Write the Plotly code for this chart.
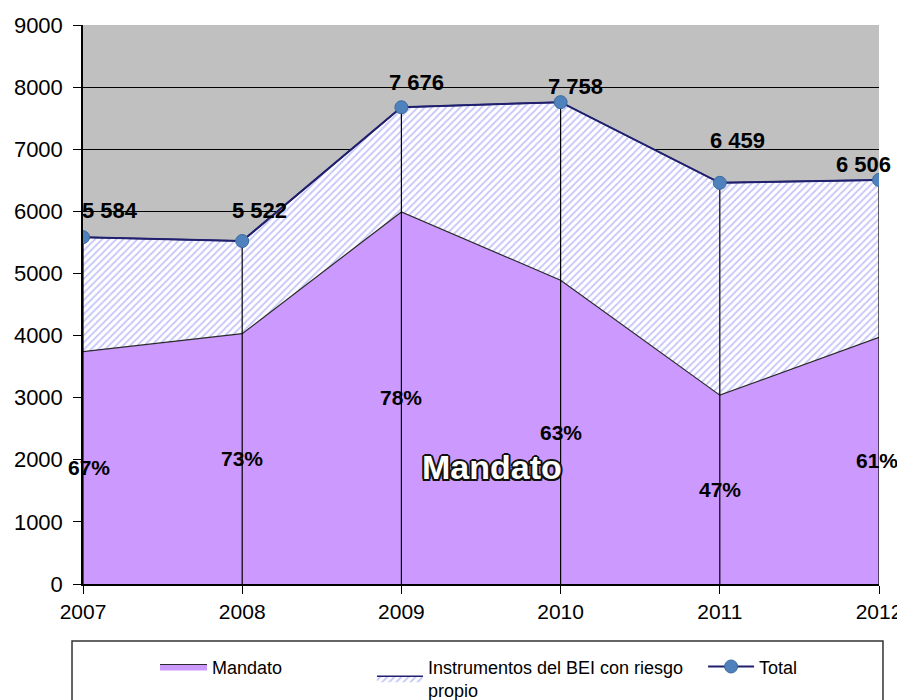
import plotly.graph_objects as go

years = [2007, 2008, 2009, 2010, 2011, 2012]
total = [5584, 5522, 7676, 7758, 6459, 6506]
mandato = [3740, 4030, 5990, 4890, 3040, 3970]
pct_labels = [67, 73, 78, 63, 47, 61]
y_ticks = [0, 1000, 2000, 3000, 4000, 5000, 6000, 7000, 8000, 9000]

# label offsets (px) for total labels, styling only
tot_dx = [27, 17, 15, 15, 18, -16]
tot_dy = [27, 31, 25, 16, 42, 15]
pct_dx = [6, 0, 0, 0, 0, -2]

FONT = "Liberation Sans, Arial, sans-serif"

fig = go.Figure()

fig.add_trace(go.Scatter(
    x=years, y=mandato, mode="lines", name="Mandato",
    fill="tozeroy", fillcolor="#CC99FF",
    line=dict(color="#2a2a2a", width=1.2),
    legend="legend",
))
fig.add_trace(go.Scatter(
    x=years, y=total, mode="lines", name="Instrumentos del BEI con riesgo<br>propio",
    fill="tonexty", fillcolor="white",
    fillpattern=dict(shape="/", fgcolor="#8C8CF5", bgcolor="white", size=5, solidity=0.35),
    line=dict(color="#20206f", width=1.5),
    legend="legend2",
))

# drop lines
dx, dy = [], []
for x, t in zip(years, total):
    dx += [x, x, None]
    dy += [0, t, None]
fig.add_trace(go.Scatter(x=dx, y=dy, mode="lines", line=dict(color="black", width=1.2),
                         showlegend=False, hoverinfo="skip"))

fig.add_trace(go.Scatter(
    x=years, y=total, mode="lines+markers", name="Total",
    line=dict(color="#20206f", width=2),
    marker=dict(color="#4F81BD", size=13, line=dict(color="#3b6a9e", width=1)),
    legend="legend3",
))

annotations = []
for x, t, ddx, ddy in zip(years, total, tot_dx, tot_dy):
    annotations.append(dict(x=x, y=t, xref="x", yref="y", text=f"{t:,}".replace(",", " "),
                            showarrow=False, xshift=ddx, yshift=ddy,
                            font=dict(family=FONT, size=22, color="black", weight="bold")))
for x, m, p, ddx in zip(years, mandato, pct_labels, pct_dx):
    annotations.append(dict(x=x, y=m / 2, xref="x", yref="y", text=f"{p}%",
                            showarrow=False, xshift=ddx,
                            font=dict(family=FONT, size=21, color="black", weight="bold")))
annotations.append(dict(x=2009.57, y=1884, xref="x", yref="y", text="Mandato", showarrow=False,
                        font=dict(family=FONT, size=34, color="white", weight="bold",
                                  shadow="-1.5px -1.5px 0 #111, 1.5px -1.5px 0 #111, -1.5px 1.5px 0 #111, 1.5px 1.5px 0 #111, 0 2px 0 #111, 2px 0 0 #111, -2px 0 0 #111, 0 -2px 0 #111")))

leg_common = dict(yanchor="top", xanchor="left", y=-0.115, bgcolor="rgba(0,0,0,0)",
                  font=dict(family=FONT, size=18, color="black"))

# page body has an 8px margin, so the figure is 8px smaller than the window
fig.update_layout(
    width=897, height=692,
    margin=dict(l=75, r=26, t=17, b=116, autoexpand=False),
    paper_bgcolor="white", plot_bgcolor="#C0C0C0",
    font=dict(family=FONT, color="black"),
    annotations=annotations,
    showlegend=True,
    legend=dict(x=0.0905, itemwidth=47, **leg_common),
    legend2=dict(x=0.363, itemwidth=46, **leg_common),
    legend3=dict(x=0.779, itemwidth=46, **leg_common),
    shapes=[dict(type="rect", xref="paper", yref="paper", x0=-0.0138, x1=1.005, y0=-0.102, y1=-0.25,
                 line=dict(color="#333333", width=1.5), fillcolor="rgba(0,0,0,0)", layer="above")],
)
fig.update_xaxes(range=[2007, 2012], tickvals=years, ticks="outside", ticklen=8, tickcolor="black",
                 showline=True, linecolor="black", linewidth=1.5, showgrid=False, zeroline=False,
                 automargin=False, tickfont=dict(family=FONT, size=21, color="black"))
fig.update_yaxes(range=[0, 9000], tickvals=y_ticks, ticks="outside", ticklen=8, tickcolor="black",
                 showline=True, linecolor="black", linewidth=1.5, showgrid=True, gridcolor="black",
                 gridwidth=1.2, zeroline=False, ticklabelstandoff=6, automargin=False,
                 tickfont=dict(family=FONT, size=22, color="black"))

fig.write_html("out.html")
